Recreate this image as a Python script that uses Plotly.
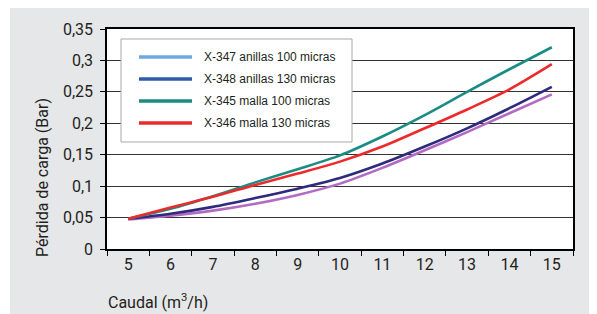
import plotly.graph_objects as go

# ---- data ----
caudal = [5, 6, 7, 8, 9, 10, 11, 12, 13, 14, 15]
series_names = [
    "X-347 anillas 100 micras",
    "X-348 anillas 130 micras",
    "X-345 malla 100 micras",
    "X-346 malla 130 micras",
]
x347 = [0.047, 0.053, 0.061, 0.072, 0.086, 0.104, 0.129, 0.157, 0.186, 0.216, 0.246]
x348 = [0.048, 0.056, 0.067, 0.081, 0.096, 0.113, 0.136, 0.163, 0.192, 0.224, 0.258]
x345 = [0.048, 0.064, 0.084, 0.106, 0.127, 0.149, 0.179, 0.213, 0.250, 0.286, 0.321]
x346 = [0.048, 0.066, 0.083, 0.102, 0.120, 0.139, 0.163, 0.192, 0.222, 0.254, 0.294]
series_values = [x347, x348, x345, x346]
line_colors = ["#b36ac2", "#2e2a7c", "#1b8b84", "#ec2a2c"]
legend_colors = ["#6fa8dc", "#2f5ba8", "#1b8b84", "#ec2a2c"]
y_ticks = [0, 0.05, 0.1, 0.15, 0.2, 0.25, 0.3, 0.35]

# page offset (body margin) compensation
OFF = 8
W, H = 597 - OFF, 314 - OFF
# plot area in page pixels: x 107..573, y 29..249
L = 107 - OFF
R = W - (573 - OFF)
T = 29 - OFF
B = H - (249 - OFF)
PW, PH = W - L - R, H - T - B

def px(xp):  # page pixel -> paper x
    return (xp - OFF - L) / PW

def py(yp):  # page pixel -> paper y
    return (H - B - (yp - OFF)) / PH

NARROW = "Roboto, Liberation Sans, sans-serif"
SANS = "Liberation Sans, Arial, sans-serif"

fig = go.Figure()
for name, vals, col in zip(series_names, series_values, line_colors):
    fig.add_trace(go.Scatter(
        x=[str(c) for c in caudal], y=vals, mode="lines", name=name,
        line=dict(color=col, width=2.6, shape="spline", smoothing=0.8),
        showlegend=False,
    ))

shapes = [
    # white strip left of the grey panel
    dict(type="rect", xref="paper", yref="paper", x0=px(OFF), x1=px(10), y0=py(330), y1=py(OFF),
         fillcolor="white", line_width=0, layer="below"),
    # legend box
    dict(type="rect", xref="paper", yref="paper", x0=px(121), x1=px(352), y0=py(142), y1=py(39),
         fillcolor="white", line=dict(color="#a8a8a8", width=1), layer="above"),
]
annotations = []
for i, (name, col) in enumerate(zip(series_names, legend_colors)):
    yy = 57 + 22 * i
    shapes.append(dict(type="line", xref="paper", yref="paper", x0=px(139), x1=px(192),
                       y0=py(yy), y1=py(yy), line=dict(color=col, width=3.5), layer="above"))
    annotations.append(dict(xref="paper", yref="paper", x=px(202), y=py(yy), text=name,
                            showarrow=False, xanchor="left", yanchor="middle",
                            font=dict(family=SANS, size=12, color="#231f20")))

annotations.append(dict(xref="paper", yref="paper", x=px(42), y=py(178),
                        text="Pérdida de carga (Bar)", textangle=-90, showarrow=False,
                        xanchor="center", yanchor="middle",
                        font=dict(family=NARROW, size=16, color="#231f20")))
annotations.append(dict(xref="paper", yref="paper", x=px(106), y=py(301),
                        text="Caudal (m<sup>3</sup>/h)", showarrow=False,
                        xanchor="left", yanchor="middle",
                        font=dict(family=NARROW, size=16, color="#231f20")))

fig.update_layout(
    width=W, height=H,
    margin=dict(l=L, r=R, t=T, b=B, pad=0),
    paper_bgcolor="#e6e7e9", plot_bgcolor="white",
    separators=",.",
    showlegend=False,
    shapes=shapes, annotations=annotations,
    font=dict(family=NARROW, size=16, color="#231f20"),
)
fig.update_xaxes(
    type="category", tickson="boundaries", ticks="outside", ticklen=5, tickcolor="black",
    showline=True, linecolor="black", linewidth=1.5, mirror=True,
    showgrid=False, range=[-0.5, 10.5],
    tickfont=dict(family=NARROW, size=16, color="#231f20"),
)
fig.update_yaxes(
    range=[0, 0.35], tickvals=y_ticks, ticks="outside", ticklen=5, tickcolor="black",
    showline=True, linecolor="black", linewidth=1.5, mirror=True,
    showgrid=True, gridcolor="#333333", gridwidth=1, zeroline=False,
    ticklabelstandoff=4,
    tickfont=dict(family=NARROW, size=16, color="#231f20"),
)

fig.write_html("out.html")
